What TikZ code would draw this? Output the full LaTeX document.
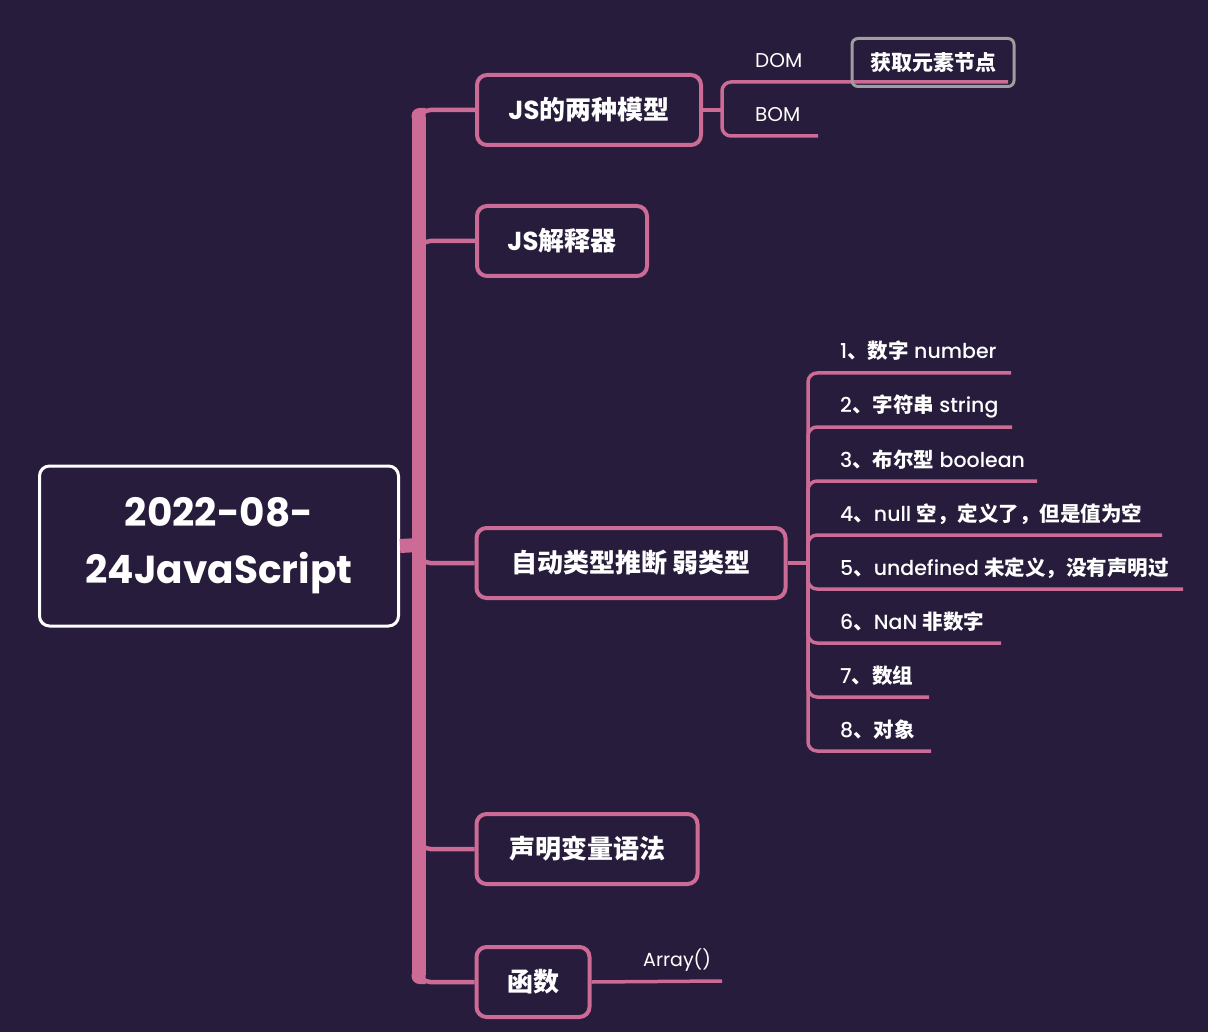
\documentclass[tikz,border=0pt]{standalone}
\usepackage{fontspec}
\setmainfont{Poppins}
\newfontfamily\zhfont{Noto Sans CJK SC}
\newfontfamily\medfont{Poppins Medium}
\newcommand{\zh}[1]{{\zhfont\bfseries #1}}
\usetikzlibrary{positioning}
\definecolor{mapbg}{RGB}{39,28,59}
\definecolor{mappink}{RGB}{204,107,150}
\definecolor{mapgrey}{RGB}{158,158,158}

\begin{document}
\begin{tikzpicture}[x=1pt,y=-1pt,
    topic/.style={draw=mappink,line width=4pt,rounded corners=10pt,text=white,
      minimum height=70pt,font=\fontsize{26}{30}\selectfont\bfseries},
    branch/.style={draw=mappink,line width=4.5pt,rounded corners=12pt},
    subline/.style={draw=mappink,line width=3.5pt,rounded corners=9pt},
    leaf/.style={text=white,inner sep=0pt,anchor=base west}]
  \fill[mapbg] (0,0) rectangle (1208,1032);
  \useasboundingbox (0,0) rectangle (1208,1032);
  \node[draw=white,line width=3pt,rounded corners=10pt,text=white,align=center,
    minimum width=359pt,minimum height=160pt,font=\fontsize{39}{57}\selectfont\bfseries]
    (root) at (219,546) {2022-08-\\24JavaScript};
  \coordinate (hub) at (418.5,545);
  \node[topic,minimum width=224pt] (model) at (589,110) {JS\zh{的两种模型}};
  \node[topic,minimum width=170pt] (interp) at (562,241) {JS\zh{解释器}};
  \node[topic,minimum width=309pt] (types) at (631,563) {\zh{自动类型推断 弱类型}};
  \node[topic,minimum width=221pt] (decl) at (587,849) {\zh{声明变量语法}};
  \node[topic,minimum width=113pt] (func) at (533,982) {\zh{函数}};
  % Main trunk
  \foreach \t in {model,interp,types,decl,func}{
    \draw[branch] (hub) |- (\t.west);
  }
  \draw[mappink,line width=14pt] (418.5,117) -- (418.5,975);
  \fill[mappink] (411.5,118) -- (411.5,116) arc[start angle=180,end angle=90,radius=8pt]
    -- (425.5,107.8) -- (425.5,118) -- cycle;
  \fill[mappink] (411.5,974) -- (411.5,976) arc[start angle=180,end angle=270,radius=8pt]
    -- (425.5,984.2) -- (425.5,974) -- cycle;
  \draw[mappink,line width=14pt] (root.east) -- (hub);
  % DOM / BOM
  \coordinate (modelfork) at (722,110);
  \coordinate (domend) at (1008,82);
  \coordinate (bomend) at (818,136);
  \draw[subline] (model.east) -- (modelfork);
  \draw[subline] (modelfork) |- (domend);
  \draw[subline] (modelfork) |- (bomend);
  \node[leaf,font=\fontsize{20}{24}\selectfont] (dom) at (755,68) {DOM};
  \node[leaf,font=\fontsize{20}{24}\selectfont] (bom) at (755,122) {BOM};
  \node[draw=mapgrey,line width=3pt,rounded corners=6pt,text=white,minimum width=162pt,
    minimum height=48pt,font=\fontsize{21}{24}\selectfont] (getnode) at (933,62.5) {\zh{获取元素节点}};
  % Type list
  \coordinate (typesfork) at (808,563);
  \draw[subline] (types.east) -- (typesfork);
  \foreach \n/\xe/\txt in {1/1011/{1\zh{、数字} number},
      2/1012/{2\zh{、字符串} string}, 3/1037/{3\zh{、布尔型} boolean},
      4/1162/{4\zh{、}null \zh{空，定义了，但是值为空}},
      5/1183/{5\zh{、}undefined \zh{未定义，没有声明过}},
      6/1001/{6\zh{、}NaN \zh{非数字}}, 7/929/{7\zh{、数组}}, 8/931/{8\zh{、对象}}}{
    \pgfmathsetmacro{\yy}{373+(\n-1)*54}
    \coordinate (t\n) at (\xe,\yy);
    \draw[subline] (typesfork) |- (t\n);
    \node[leaf,font=\fontsize{20.5}{24}\selectfont\medfont] (l\n) at (840,\yy-14) {\txt};
  }
  % Array
  \coordinate (arrayend) at (722,981);
  \draw[subline] (func.east) -- (arrayend);
  \node[leaf,font=\fontsize{19}{22}\selectfont] (arr) at (643,966) {Array()};
\end{tikzpicture}
\end{document}
